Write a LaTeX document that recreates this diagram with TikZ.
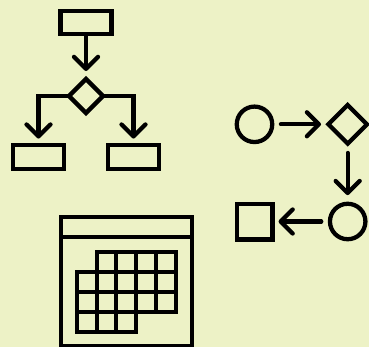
\documentclass[tikz,border=0pt]{standalone}
\usepackage{tikz}
\usetikzlibrary{arrows.meta,shapes.geometric}
\definecolor{paper}{HTML}{EDF2C6}

\begin{document}
\begin{tikzpicture}[
  x=0.75pt, y=-0.75pt,
  line width=3.2pt,
  box/.style={rectangle, draw, inner sep=0pt, outer sep=0pt, minimum width=38.25pt, minimum height=17.6pt},
  decide/.style={diamond, draw, aspect=1, inner sep=0pt, outer sep=0pt, minimum size=#1},
  decide/.default=25.5pt,
  ring/.style={circle, draw, inner sep=0pt, outer sep=0pt, minimum size=26.6pt},
  cellbox/.style={line width=3pt},
  flow/.style={-{Straight Barb[round, length=9pt, width=18pt, line width=3.2pt]}, line cap=round, line join=miter},
]
\fill[paper] (0,0) rectangle (369,347);
\useasboundingbox (0,0) rectangle (369,347);

% --- Left: flow chart ---
\node[box] (start) at (86,22.5) {};
\node[decide] (branch) at (86,96) {};
\node[box] (endl) at (38.5,157) {};
\node[box] (endr) at (133.5,157) {};

\draw[flow, shorten >=6pt] (start) -- (branch);
\draw[flow, shorten >=5pt] (branch.west) -| (endl.north);
\draw[flow, shorten >=5pt] (branch.east) -| (endr.north);

% --- Right: loop of shapes ---
\node[ring] (first) at (254.5,124.3) {};
\node[decide=29pt] (check) at (347.7,124.3) {};
\node[ring] (second) at (347.7,221.5) {};
\node[rectangle, draw, inner sep=0pt, outer sep=0pt, minimum size=26.8pt] (last) at (254.7,221.5) {};

\draw[flow, shorten <=6.5pt, shorten >=5.5pt] (first) -- (check);
\draw[flow, shorten <=7pt, shorten >=6.5pt] (check) -- (second);
\draw[flow, shorten <=6.5pt, shorten >=4.5pt] (second) -- (last);

% --- Bottom: calendar ---
\draw (61,345.7) -- (61,216.7) -- (191.7,216.7) -- (191.7,345.7) -- cycle;
\draw (61,236.7) -- (191.7,236.7);

% cells, row by row
\foreach \row/\from/\to in {0/1/4, 1/0/4, 2/0/4, 3/0/2} {
  \foreach \col in {\from,...,\to} {
    \draw[cellbox] ({76.7+\col*19.9},{252.3+\row*19.9}) rectangle ++(19.9,19.9);
  }
}
\end{tikzpicture}
\end{document}
